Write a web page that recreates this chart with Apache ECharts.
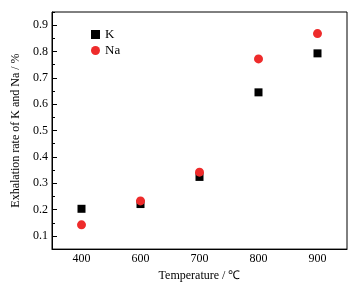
<!DOCTYPE html>
<html>
<head>
<meta charset="utf-8">
<script src="https://cdn.jsdelivr.net/npm/echarts@6/dist/echarts.min.js"></script>
<style>
html,body{margin:0;padding:0;background:#fff;}
#c{width:359px;height:287px;}
</style>
</head>
<body>
<div id="c"></div>
<script>
var categories = ['400', '600', '700', '800', '900'];
var kValues = [0.203, 0.221, 0.324, 0.645, 0.793];
var naValues = [0.142, 0.233, 0.342, 0.772, 0.868];
var yMajorTicks = [0.1, 0.2, 0.3, 0.4, 0.5, 0.6, 0.7, 0.8, 0.9];
var yMinorTicks = [0.05, 0.15, 0.25, 0.35, 0.45, 0.55, 0.65, 0.75, 0.85, 0.95];

var font = 'Liberation Serif';
var chart = echarts.init(document.getElementById('c'));
chart.setOption({
  animation: false,
  backgroundColor: '#fff',
  grid: {left: 52, right: 12, top: 12, bottom: 35, show: true, borderColor: '#000', borderWidth: 1, backgroundColor: 'transparent'},
  legend: {
    orient: 'vertical', left: 86, top: 23, itemWidth: 9, itemHeight: 9, itemGap: 3,
    textStyle: {fontFamily: font, fontSize: 13, color: '#000'},
    data: [{name: 'K', icon: 'rect'}, {name: 'Na', icon: 'circle'}]
  },
  xAxis: [{
    type: 'category', data: categories, boundaryGap: true,
    name: 'Temperature / ℃', nameLocation: 'middle', nameGap: 14,
    nameTextStyle: {fontFamily: font, fontSize: 12, color: '#000'},
    axisLine: {lineStyle: {color: '#000', width: 1}},
    axisTick: {alignWithLabel: true, inside: true, length: 5, lineStyle: {color: '#000'}},
    axisLabel: {fontFamily: font, fontSize: 12, color: '#000', margin: 4},
    splitLine: {show: false}
  }, {
    type: 'category', data: categories, boundaryGap: true, position: 'bottom',
    axisLine: {show: false},
    axisTick: {alignWithLabel: false, inside: true, length: 3, lineStyle: {color: '#000'}},
    axisLabel: {show: false},
    splitLine: {show: false}
  }],
  yAxis: [{
    type: 'value', min: 0.05, max: 0.95,
    name: 'Exhalation rate of K and Na / %', nameLocation: 'middle', nameGap: 22,
    nameTextStyle: {fontFamily: font, fontSize: 12, color: '#000'},
    axisLine: {show: true, lineStyle: {color: '#000', width: 1}},
    axisTick: {show: true, inside: true, length: 5, customValues: yMajorTicks, lineStyle: {color: '#000'}},
    axisLabel: {fontFamily: font, fontSize: 12, color: '#000', margin: 4, customValues: yMajorTicks,
      formatter: function (v) { return v.toFixed(1); }},
    splitLine: {show: false}
  }, {
    type: 'value', min: 0.05, max: 0.95, position: 'left',
    axisLine: {show: false},
    axisTick: {show: true, inside: true, length: 3, customValues: yMinorTicks, lineStyle: {color: '#000'}},
    axisLabel: {show: false},
    splitLine: {show: false}
  }],
  series: [{
    name: 'K', type: 'scatter', symbol: 'rect', symbolSize: 8,
    itemStyle: {color: '#000', opacity: 1}, data: kValues, xAxisIndex: 0, yAxisIndex: 0
  }, {
    name: 'Na', type: 'scatter', symbol: 'circle', symbolSize: 9,
    itemStyle: {color: '#ee2b2b', opacity: 1}, data: naValues, xAxisIndex: 0, yAxisIndex: 0
  }]
});
</script>
</body>
</html>
